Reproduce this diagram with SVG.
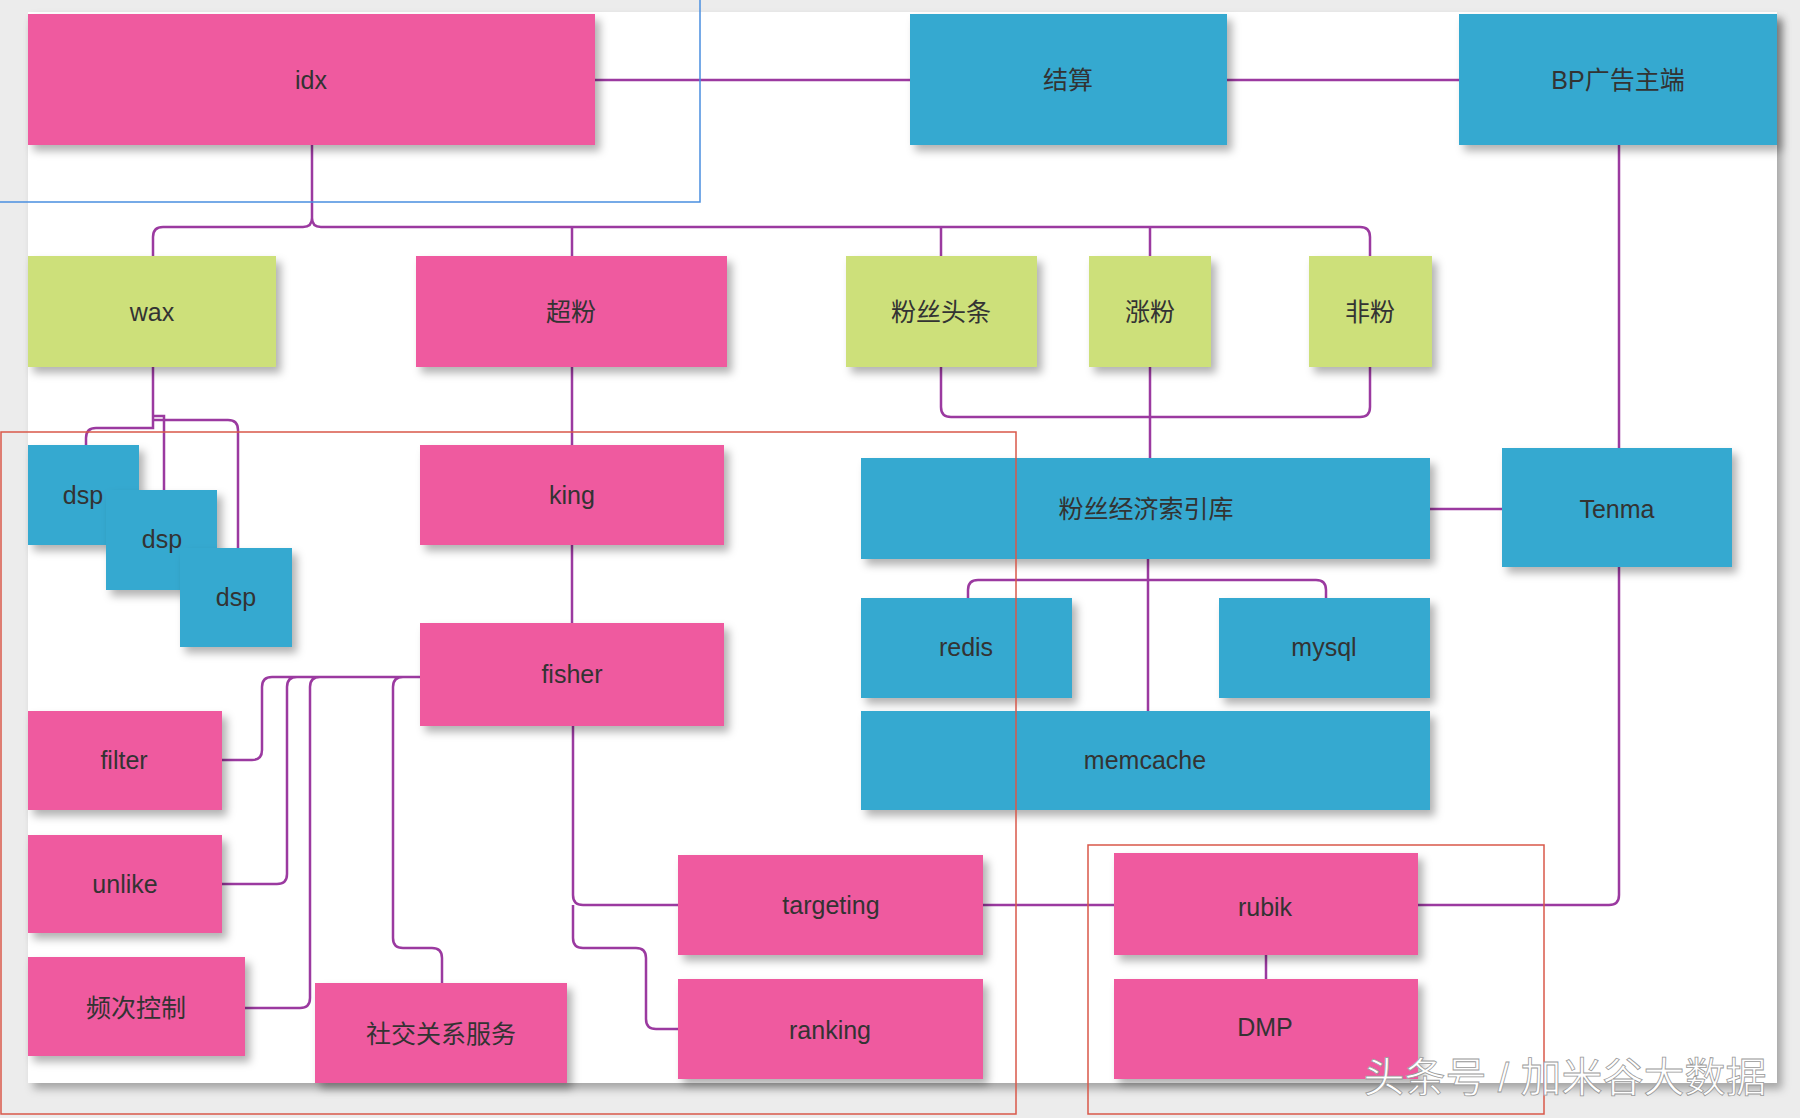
<svg xmlns="http://www.w3.org/2000/svg" width="1800" height="1118" viewBox="0 0 1800 1118">
<defs>
<filter id="sh" x="-10%" y="-10%" width="130%" height="140%"><feDropShadow dx="5" dy="6" stdDeviation="4" flood-color="#000" flood-opacity="0.3"/></filter>
</defs>
<style>
.p{fill:#ef5a9f;filter:url(#sh)}
.b{fill:#34a9d0;filter:url(#sh)}
.g{fill:#cde07a;filter:url(#sh)}
text{font-family:"Liberation Sans","Noto Sans CJK SC",sans-serif;font-size:25px;fill:#333;text-anchor:middle;dominant-baseline:central}
.c path{fill:none;stroke:#9b3aa0;stroke-width:2.5}
</style>
<rect width="1800" height="1118" fill="#ececec"/>
<rect x="28" y="12" width="1749" height="1071" fill="#fff" filter="url(#sh)"/>
<g class="c">
<path d="M595 80H910M1227 80H1459"/>
<path d="M312 145V218Q312 227 303 227H163Q153 227 153 237V256M312 218Q312 227 321 227H1360Q1370 227 1370 237V256M572 227V256M941 227V256M1150 227V256"/>
<path d="M941 367V407Q941 417 951 417H1360Q1370 417 1370 407V367M1150 367V458"/>
<path d="M1619 145V448M1430 509H1502"/>
<path d="M1148 559V711M1148 580H978Q968 580 968 590V598M1148 580H1316Q1326 580 1326 590V598"/>
<path d="M1619 567V895Q1619 905 1609 905H1418M983 905H1114M1266 955V979"/>
<path d="M572 367V445M572 545V623M573 726V895Q573 905 583 905H678M573 905V938Q573 948 583 948H636Q646 948 646 958V1019Q646 1029 656 1029H678"/>
<path d="M153 367V428H96Q86 428 86 438V445M153 416H164V490M153 420H228Q238 420 238 430V548"/>
<path d="M420 677H272Q262 677 262 687V750Q262 760 252 760H222M420 677H297Q287 677 287 687V874Q287 884 277 884H222M420 677H320Q310 677 310 687V998Q310 1008 300 1008H245M420 677H403Q393 677 393 687V938Q393 948 403 948H432Q442 948 442 958V983"/>
</g>
<g id="idx"><rect class="p" x="28" y="14" width="567" height="131"/><text x="311" y="80">idx</text></g>
<g id="js"><rect class="b" x="910" y="14" width="317" height="131"/><text x="1068" y="80">结算</text></g>
<g id="bp"><rect class="b" x="1459" y="14" width="318" height="131"/><text x="1618" y="80">BP广告主端</text></g>
<g id="wax"><rect class="g" x="28" y="256" width="248" height="111"/><text x="152" y="312">wax</text></g>
<g id="cf"><rect class="p" x="416" y="256" width="311" height="111"/><text x="571" y="312">超粉</text></g>
<g id="fstt"><rect class="g" x="846" y="256" width="191" height="111"/><text x="941" y="312">粉丝头条</text></g>
<g id="zf"><rect class="g" x="1089" y="256" width="122" height="111"/><text x="1150" y="312">涨粉</text></g>
<g id="ff"><rect class="g" x="1309" y="256" width="123" height="111"/><text x="1370" y="312">非粉</text></g>
<g id="dsp1"><rect class="b" x="28" y="445" width="111" height="100"/><text x="83" y="495">dsp</text></g>
<g id="dsp2"><rect class="b" x="106" y="490" width="111" height="100"/><text x="162" y="539">dsp</text></g>
<g id="dsp3"><rect class="b" x="180" y="548" width="112" height="99"/><text x="236" y="597">dsp</text></g>
<g id="king"><rect class="p" x="420" y="445" width="304" height="100"/><text x="572" y="495">king</text></g>
<g id="syk"><rect class="b" x="861" y="458" width="569" height="101"/><text x="1146" y="509">粉丝经济索引库</text></g>
<g id="tenma"><rect class="b" x="1502" y="448" width="230" height="119"/><text x="1617" y="509">Tenma</text></g>
<g id="redis"><rect class="b" x="861" y="598" width="211" height="100"/><text x="966" y="647">redis</text></g>
<g id="mysql"><rect class="b" x="1219" y="598" width="211" height="100"/><text x="1324" y="647">mysql</text></g>
<g id="memcache"><rect class="b" x="861" y="711" width="569" height="99"/><text x="1145" y="760">memcache</text></g>
<g id="fisher"><rect class="p" x="420" y="623" width="304" height="103"/><text x="572" y="674">fisher</text></g>
<g id="filter"><rect class="p" x="28" y="711" width="194" height="99"/><text x="124" y="760">filter</text></g>
<g id="unlike"><rect class="p" x="28" y="835" width="194" height="98"/><text x="125" y="884">unlike</text></g>
<g id="pckz"><rect class="p" x="28" y="957" width="217" height="99"/><text x="136" y="1008">频次控制</text></g>
<g id="sj"><rect class="p" x="315" y="983" width="252" height="100"/><text x="441" y="1034">社交关系服务</text></g>
<g id="targeting"><rect class="p" x="678" y="855" width="305" height="100"/><text x="831" y="905">targeting</text></g>
<g id="ranking"><rect class="p" x="678" y="979" width="305" height="100"/><text x="830" y="1030">ranking</text></g>
<g id="rubik"><rect class="p" x="1114" y="853" width="304" height="102"/><text x="1265" y="907">rubik</text></g>
<g id="dmp"><rect class="p" x="1114" y="979" width="304" height="100"/><text x="1265" y="1027">DMP</text></g>
<g fill="none" stroke-width="1.5">
<path d="M0 202H700V0" stroke="#4a8fe0"/>
<rect x="1" y="432" width="1015" height="682" stroke="#d9584a"/>
<rect x="1088" y="845" width="456" height="269" stroke="#d9584a"/>
</g>
<text x="1565" y="1078" style="font-size:41px;fill:#fff;stroke:#999;stroke-width:0.8">头条号 / 加米谷大数据</text>
</svg>
